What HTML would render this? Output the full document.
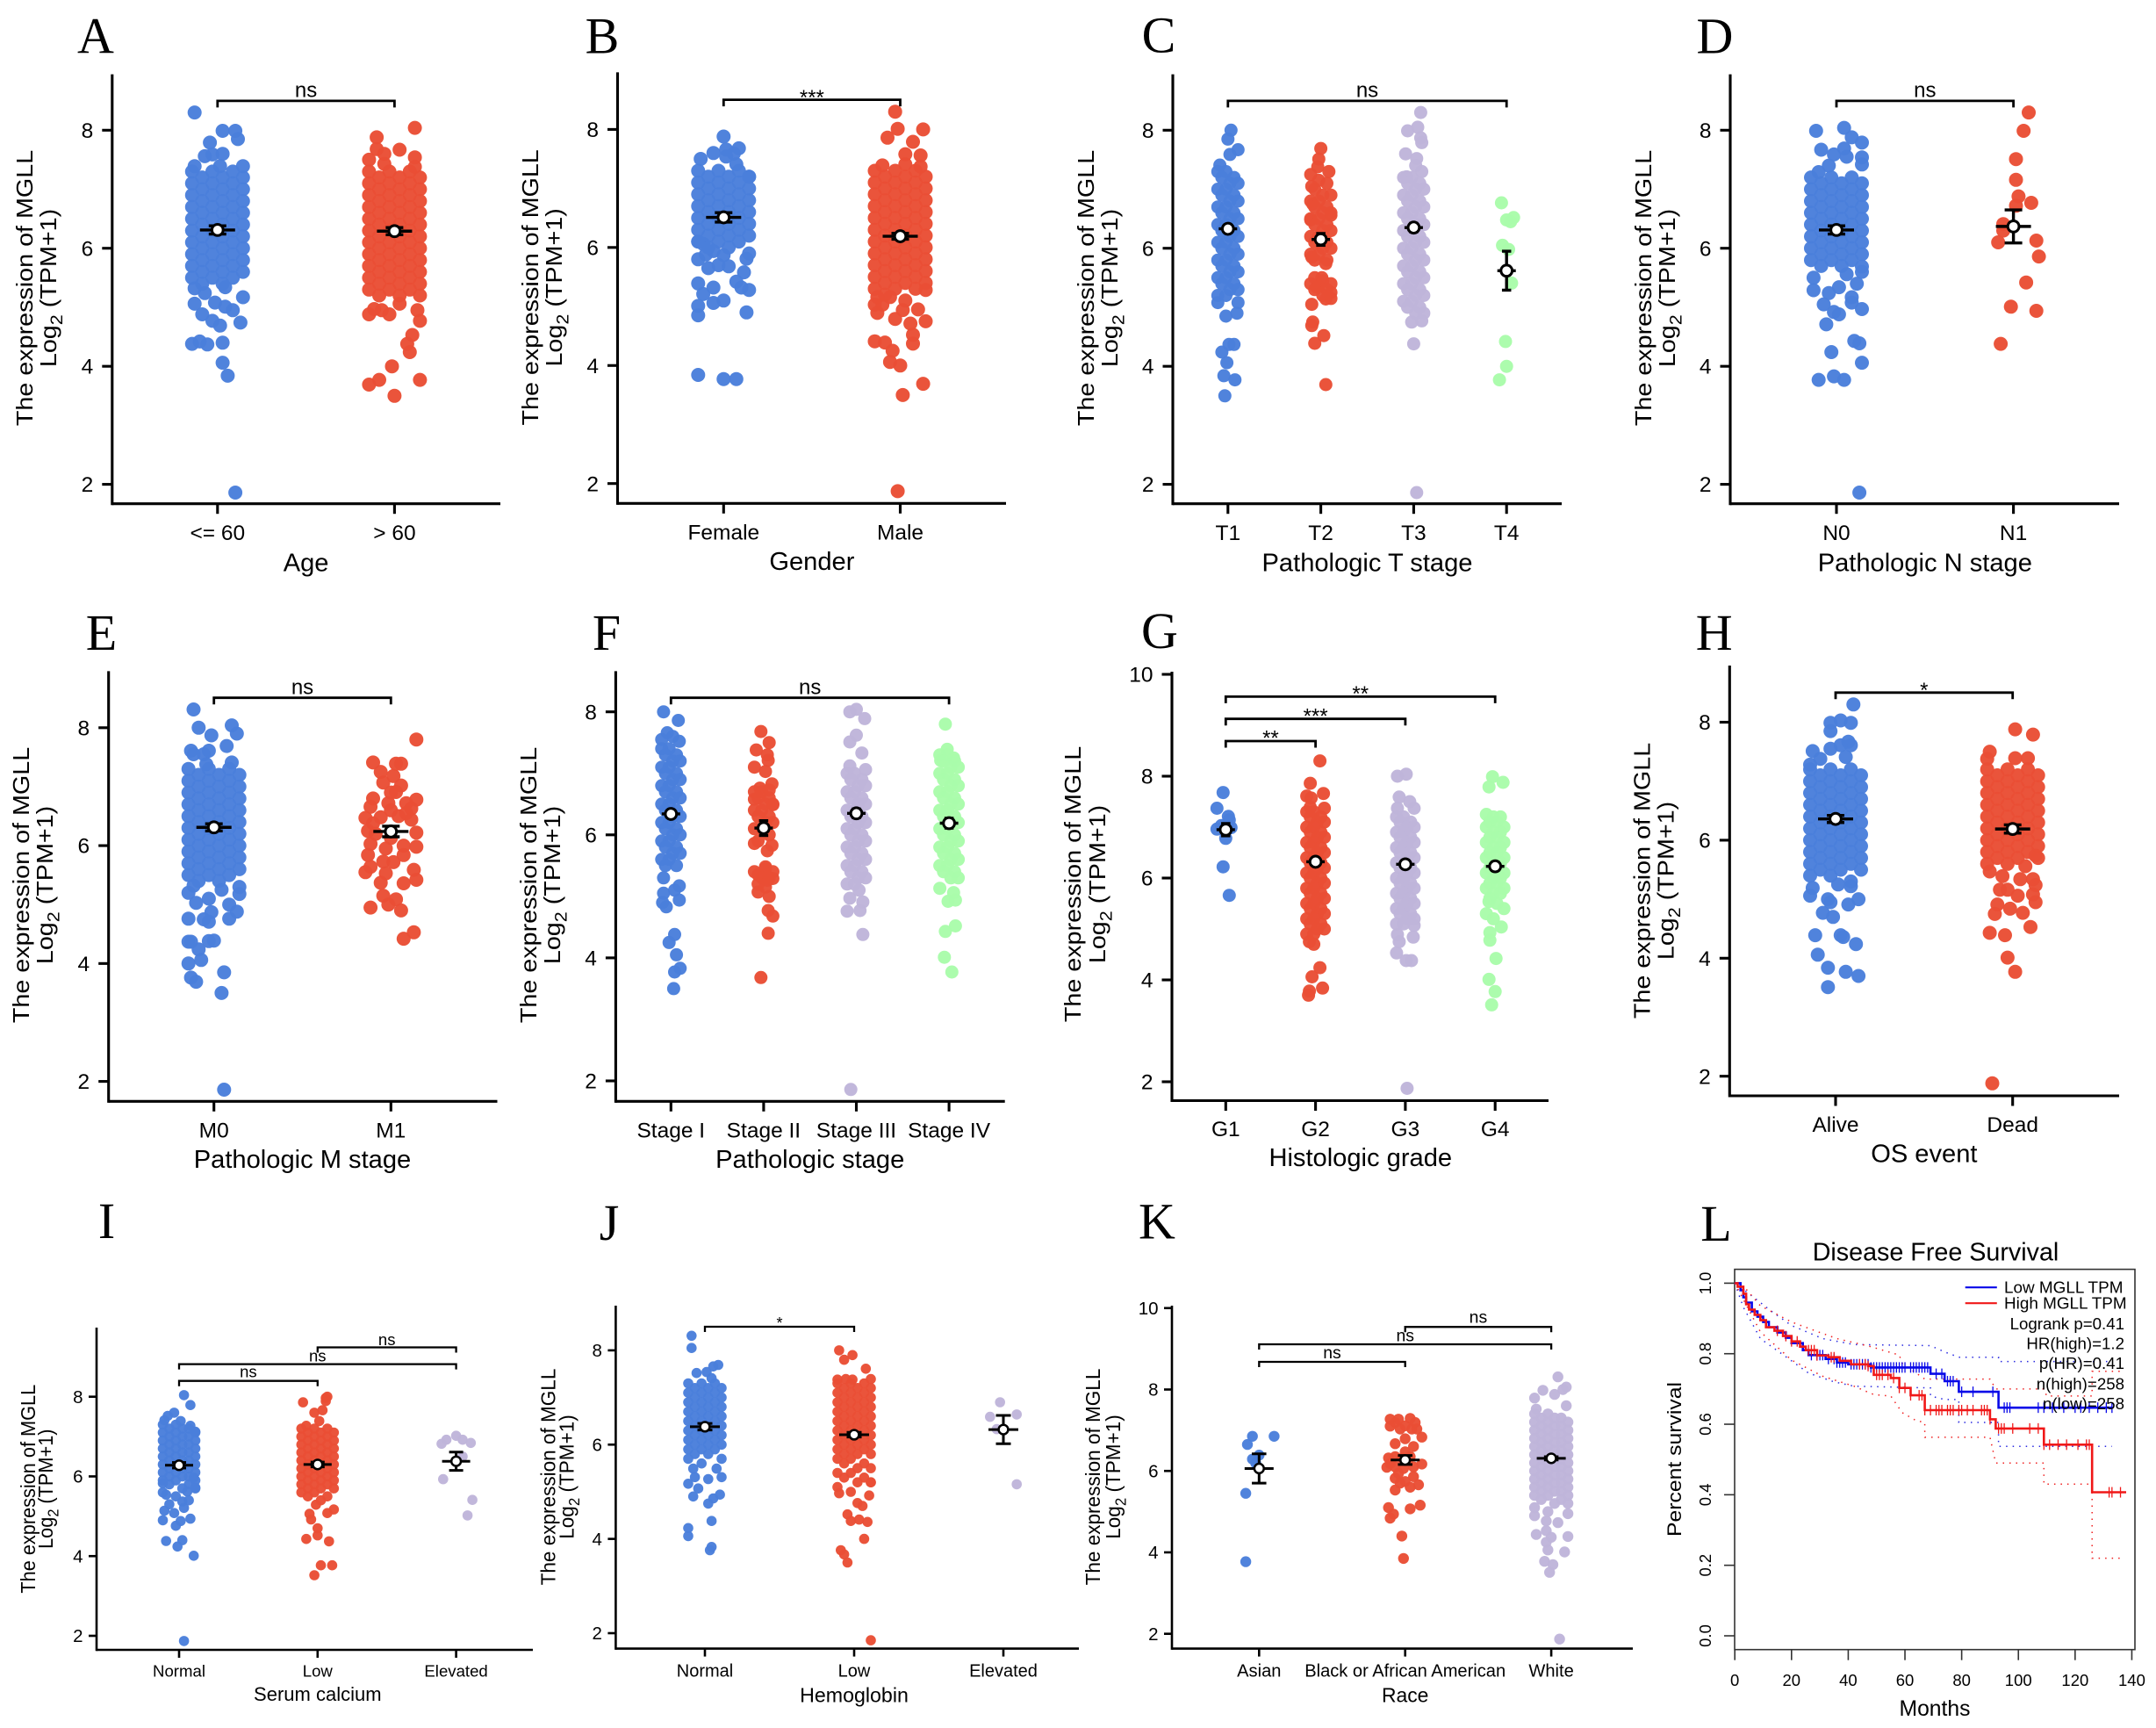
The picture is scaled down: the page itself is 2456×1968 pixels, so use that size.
<!DOCTYPE html>
<html lang="en">
<head>
<meta charset="utf-8">
<title>MGLL expression and disease free survival</title>
<style>
html,body{margin:0;padding:0;background:#fff;}
svg{display:block;}
text{font-family:"Liberation Sans",Arial,sans-serif;fill:#000;}
</style>
</head>
<body>
<svg id="figure" xmlns="http://www.w3.org/2000/svg" width="2456" height="1968" viewBox="0 0 2456 1968"></svg>
<script>
const BLUE='#4a7fdb',RED='#e94e35',LAV='#bfb5da',GREEN='#a9fcaa';
const yTicks8=[2,4,6,8];
const yTicks10=[2,4,6,8,10];
const corePattern=[-10,-2,6,-6,2,10];

/* Panel A */
const aCategories=['<= 60','> 60'];
const aMeans=[6.31,6.29];
const aErrors=[0.07,0.06];
const aLowAgeValues=[8.3,7.99,7.99,7.85,7.79,7.56,7.59,7.6,4.74,4.69,4.77,4.88,5.06,4.95,5.01,5.08,4.38,4.42,4.37,4.4,4.06,3.84,1.86,5.32,5.17,5.24,5.34,7.39,7.39,7.39,
7.3,7.3,7.3,7.2,7.2,7.2,7.1,7.1,7.1,7,7,7,6.9,6.9,6.9,6.8,6.8,6.8,6.7,6.7,6.7,6.6,6.6,6.6,6.5,6.5,6.5,6.4,6.4,6.4,6.3,6.3,6.3,6.2,6.2,6.2,6.1,6.1,6.1,6,6,6,5.9,5.9,5.9,5.8,5.8,5.8,5.7,5.7,5.7,5.6,5.6,5.6,5.5,5.5,5.5,5.4,5.4];
const aLowAgeJitter=[-9,2,7,8,-3,-5,-2,2,9,1,-2,-6,-9,6,3,-1,-10,-7,-4,2,2,4,7,-9,10,-5,3,-9,10,1];
const aHighAgeValues=[8.04,7.88,7.67,7.68,7.6,7.54,7.5,7.38,7.43,4.88,4.97,4.95,4.88,5.06,4.95,4.77,5.2,4.53,4.38,4.24,4,3.77,3.69,3.77,3.5,
7.3,7.3,7.3,7.2,7.2,7.2,7.1,7.1,7.1,7,7,7,6.9,6.9,6.9,6.8,6.8,6.8,6.7,6.7,6.7,6.6,6.6,6.6,6.5,6.5,6.5,6.4,6.4,6.4,6.3,6.3,6.3,6.2,6.2,6.2,6.1,6.1,6.1,6,6,6,5.9,5.9,5.9,5.8,5.8,5.8,5.7,5.7,5.7,5.6,5.6,5.6,5.5,5.5,5.5,5.4,5.4,5.4,5.3,5.3,5.3,5.2,5.2];
const aHighAgeJitter=[8,-7,2,-7,-4,8,-10,8,-4,-10,-8,-5,-2,2,9,10,10,7,5,6,-1,-6,-10,10,0];

/* Panel B */
const bCategories=['Female','Male'];
const bMeans=[6.51,6.19];
const bErrors=[0.08,0.05];
const bFemaleValues=[7.88,7.68,7.66,7.6,7.59,7.54,7.5,7.41,7.2,6.1,6.06,5.88,5.94,5.87,5.81,5.58,5.65,5.68,5.42,5.32,5.28,5.39,5.32,5.21,5.06,5.1,5.01,4.85,4.9,3.84,3.77,3.77,
7.3,7.3,7.3,7.2,7.2,7.2,7.1,7.1,7.1,7,7,7,6.9,6.9,6.9,6.8,6.8,6.8,6.7,6.7,6.7,6.6,6.6,6.6,6.5,6.5,6.5,6.4,6.4,6.4,6.3,6.3,6.3,6.2,6.2,6.2,6.1,6.1,6.1,6,6,5.9,5.8,5.7];
const bFemaleJitter=[0,6,1,-4,4,1,-9,5,10,-10,-8,-7,-4,0,9,8,-6,2,5,7,10,-10,-4,-8,-4,0,-10,-10,9,-10,0,5];
const bMaleValues=[8.3,8.01,8,7.86,7.79,7.58,7.56,7.41,7.39,7.37,5.28,5.16,5.16,5.03,5.03,4.94,4.95,4.89,4.79,4.71,4.75,4.52,4.41,4.39,4.37,4.25,4.06,4,3.69,3.5,1.87,
7.3,7.3,7.3,7.2,7.2,7.2,7.1,7.1,7.1,7,7,7,6.9,6.9,6.9,6.8,6.8,6.8,6.7,6.7,6.7,6.6,6.6,6.6,6.5,6.5,6.5,6.4,6.4,6.4,6.3,6.3,6.3,6.2,6.2,6.2,6.1,6.1,6.1,6,6,6,5.9,5.9,5.9,5.8,5.8,5.8,5.7,5.7,5.7,5.6,5.6,5.6,5.5,5.5,5.5,5.4,5.4,5.4,5.3,5.3,5.3,5.2,5.1];
const bMaleJitter=[-2,-1,9,-5,5,2,8,2,-7,8,10,-9,-4,-10,-7,1,7,-9,-2,4,10,5,-10,-6,5,-3,-4,0,9,1,-1];

/* Panel C */
const cCategories=['T1','T2','T3','T4'];
const cMeans=[6.33,6.15,6.35,5.62];
const cErrors=[0.06,0.1,0.07,0.33];
const cT1Values=[8,7.85,7.67,7.59,7.41,4.85,4.9,5.08,5.08,4.37,4.37,4.24,4.06,3.84,3.77,3.5,
7.3,7.3,7.2,7.2,7.1,7.1,7,7,6.9,6.9,6.8,6.8,6.7,6.7,6.6,6.6,6.5,6.5,6.4,6.4,6.3,6.3,6.2,6.2,6.1,6.1,6,6,5.9,5.9,5.8,5.8,5.7,5.7,5.6,5.6,5.5,5.5,5.4,5.4,5.3,5.3,5.2,5.2];
const cT1Jitter=[3,0,10,2,-8,-2,9,-10,10,1,6,-6,-1,-4,7,-3];
const cT2Values=[7.69,7.51,7.38,7.3,7.05,6.56,6.48,6.75,5.74,5.85,5.25,5.34,5.14,5.05,4.75,4.69,4.52,4.39,3.69,5.5,5.5,
7.25,7.15,7.1,7,6.9,6.9,6.8,6.8,6.7,6.7,6.6,6.6,6.5,6.5,6.4,6.4,6.3,6.3,6.2,6.2,6.1,6.1,6,6,5.9,5.9,5.8,5.8,5.45,5.4,5.4,5.35,5.3,5.3,5.2,5.15];
const cT2Jitter=[0,-2,-3,8,-9,10,-10,-8,5,-9,10,-4,5,-9,-8,-9,3,-6,5,1,-6];
const cT3Values=[8.3,8.05,7.99,7.87,7.79,7.6,7.52,7.4,7.3,7.21,4.75,4.77,4.38,1.86,
7.2,7.2,7.1,7.1,7,7,6.9,6.9,6.8,6.8,6.7,6.7,6.6,6.6,6.5,6.5,6.4,6.4,6.3,6.3,6.2,6.2,6.1,6.1,6,6,5.9,5.9,5.8,5.8,5.7,5.7,5.6,5.6,5.5,5.5,5.4,5.4,5.3,5.3,5.2,5.2,5.1,5.1,5,5,4.9,4.9];
const cT3Jitter=[7,4,-6,7,8,-8,3,2,8,-7,-2,8,0,3];
const cT4Values=[6.77,6.52,6.48,6.45,6.05,5.98,5.41,4.42,4,3.77];
const cT4Jitter=[-5,7,0,4,-4,2,5,-1,0,-7];

/* Panel D */
const dCategories=['N0','N1'];
const dMeans=[6.31,6.37];
const dErrors=[0.07,0.28];
const dN0Values=[7.99,8.04,7.88,7.79,7.67,7.69,7.59,7.55,7.54,7.4,7.29,7.42,5.5,5.69,5.4,5.56,5.34,5.24,5.29,5.05,5.17,5.08,4.97,4.92,4.88,4.71,4.43,4.39,4.24,4.06,3.83,3.77,3.77,1.86,
7.2,7.2,7.2,7.1,7.1,7.1,7,7,7,6.9,6.9,6.9,6.8,6.8,6.8,6.7,6.7,6.7,6.6,6.6,6.6,6.5,6.5,6.5,6.4,6.4,6.4,6.3,6.3,6.3,6.2,6.2,6.2,6.1,6.1,6.1,6,6,6,5.9,5.9,5.9,5.8,5.8,5.8,5.7,5.7,5.6];
const dN0Jitter=[-8,3,6,10,-6,3,-1,4,10,-3,-7,10,-9,10,8,4,1,-3,-9,-5,6,6,10,-1,1,-4,7,9,-2,10,-1,-7,3,9];
const dN1Values=[8.3,7.99,7.51,7.16,6.88,6.72,6.77,6.41,6.3,6.1,6.13,5.86,5.42,5.01,4.94,4.38];
const dN1Jitter=[6,4,1,1,2,1,7,-4,-4,-6,9,10,5,-1,9,-5];

/* Panel E */
const eCategories=['M0','M1'];
const eMeans=[6.31,6.24];
const eErrors=[0.06,0.09];
const eM0Values=[8.31,8,8.04,7.9,7.87,7.69,7.61,7.61,7.55,7.55,7.41,7.38,5.32,5.18,5.25,5.03,4.87,4.88,4.76,4.75,4.76,4.71,4.37,4.37,4.38,4.39,4.24,4,4.06,3.85,3.76,3.69,3.5,1.86,
7.3,7.3,7.3,7.2,7.2,7.2,7.1,7.1,7.1,7,7,7,6.9,6.9,6.9,6.8,6.8,6.8,6.7,6.7,6.7,6.6,6.6,6.6,6.5,6.5,6.5,6.4,6.4,6.4,6.3,6.3,6.3,6.2,6.2,6.2,6.1,6.1,6.1,6,6,6,5.9,5.9,5.9,5.8,5.8,5.8,5.7,5.7,5.7,5.6,5.6,5.6,5.5,5.5,5.5,5.4,5.4,5.3,5.2,5.1,5];
const eM0Jitter=[-8,-6,7,9,-1,5,-2,-9,-4,-8,7,-3,-8,10,3,-7,-1,9,-10,-4,6,-2,-10,-9,-2,0,-6,-10,-5,4,-9,-7,3,4];
const eM1Values=[7.8,7.41,7.39,7.39,7.25,7.18,7.07,7.02,6.91,6.78,6.8,6.72,6.72,6.66,6.63,6.47,6.48,6.44,6.38,6.22,6.25,6.13,6.03,5.98,6,5.84,5.84,5.73,5.72,5.64,5.55,5.59,5.53,5.37,5.36,5.42,5.15,5.09,5,4.9,4.95,4.53,4.42,6.5,6.55,5.95,6.2,6.9,6.6];
const eM1Jitter=[10,-7,2,4,-4,1,-3,4,2,10,-7,-1,6,-8,8,-10,-4,8,-7,10,-9,0,-8,10,5,5,-9,-3,1,-8,-10,9,-2,-4,5,10,-3,2,-1,4,-8,9,5,3,6,-2,-6,0,0];

/* Panel F */
const fCategories=['Stage I','Stage II','Stage III','Stage IV'];
const fMeans=[6.34,6.11,6.35,6.19];
const fErrors=[0.06,0.12,0.07,0.08];
const fS1Values=[8,7.86,7.66,7.6,7.55,7.52,5.3,5.17,5.05,5.1,4.94,4.9,4.83,4.38,4.25,4.05,3.83,3.77,3.5,
7.4,7.4,7.3,7.3,7.2,7.2,7.1,7.1,7,7,6.9,6.9,6.8,6.8,6.7,6.7,6.6,6.6,6.5,6.5,6.4,6.4,6.3,6.3,6.2,6.2,6.1,6.1,6,6,5.9,5.9,5.8,5.8,5.7,5.7,5.6,5.6,5.5,5.5];
const fS1Jitter=[-8,8,-4,2,-10,9,-8,9,-8,4,9,-9,-5,4,-2,6,10,4,3];
const fS2Values=[7.68,7.5,7.38,7.3,7.21,7.1,7.03,6.83,6.76,6.73,6.58,6.49,5.86,5.83,5.74,5.48,5.35,5.29,5.26,5.07,5,4.77,4.68,4.4,3.68,
6.7,6.7,6.6,6.6,6.5,6.5,6.4,6.4,6.3,6.3,6.2,6.2,6.1,6.1,6,5.9,5.45,5.4,5.4,5.3,5.3,5.2,5.15];
const fS2Jitter=[-3,6,-8,4,5,-10,2,9,-4,6,-10,10,-10,9,4,2,-6,10,4,-6,6,5,10,5,-3];
const fS3Values=[8,8.04,7.89,7.62,7.51,7.33,7.12,7.06,4.76,4.77,4.91,4.97,4.38,1.86,5.1,
7,7,6.9,6.9,6.8,6.8,6.7,6.7,6.6,6.6,6.5,6.5,6.4,6.4,6.3,6.3,6.2,6.2,6.1,6.1,6,6,5.9,5.9,5.8,5.8,5.7,5.7,5.6,5.6,5.5,5.5,5.4,5.4,5.3,5.3,5.2,5.2];
const fS3Jitter=[-7,0,9,0,-7,6,-7,10,-10,4,7,-7,7,-6,3];
const fS4Values=[7.8,7.39,7.25,7.21,5.13,5.06,4.92,4.94,4.52,4.43,4.01,3.77,
7.3,7.3,7.2,7.2,7.1,7.1,7,7,6.9,6.9,6.8,6.8,6.7,6.7,6.6,6.6,6.5,6.5,6.4,6.4,6.3,6.3,6.2,6.2,6.1,6.1,6,6,5.9,5.9,5.8,5.8,5.7,5.7,5.6,5.6,5.5,5.5,5.4,5.4,5.3,5.3];
const fS4Jitter=[-4,-2,5,-9,-10,5,-1,7,7,-4,-5,3];

/* Panel G */
const gCategories=['G1','G2','G3','G4'];
const gMeans=[6.95,6.32,6.27,6.23];
const gErrors=[0.12,0.05,0.06,0.08];
const gG1Values=[7.68,7.37,7.21,7.14,7.03,6.96,6.99,6.96,6.78,6.22,5.66];
const gG1Jitter=[-3,-10,3,4,-5,-10,6,0,0,-3,4];
const gG2Values=[8.3,7.86,7.66,7.61,7.57,7.39,7.37,4.75,4.7,4.24,4.06,3.84,3.78,3.7,
7.3,7.3,7.2,7.2,7.1,7.1,7,7,6.9,6.9,6.8,6.8,6.7,6.7,6.6,6.6,6.5,6.5,6.4,6.4,6.3,6.3,6.2,6.2,6.1,6.1,6,6,5.9,5.9,5.8,5.8,5.7,5.7,5.6,5.6,5.5,5.5,5.4,5.4,5.3,5.3,5.2,5.2,5.1,5.1,5,5,4.9,4.9];
const gG2Jitter=[5,-6,9,-10,-5,-6,10,-7,-2,5,-4,8,-7,-8];
const gG3Values=[8,8.04,7.59,7.5,7.37,7.37,4.53,4.38,4.38,4.75,4.84,4.89,5.07,1.87,
7.2,7.2,7.1,7.1,7,7,6.9,6.9,6.8,6.8,6.7,6.7,6.6,6.6,6.5,6.5,6.4,6.4,6.3,6.3,6.2,6.2,6.1,6.1,6,6,5.9,5.9,5.8,5.8,5.7,5.7,5.6,5.6,5.5,5.5,5.4,5.4,5.3,5.3,5.2,5.2,5.1,5.1];
const gG3Jitter=[-9,1,-7,5,10,-9,-10,1,7,-7,9,-9,10,2];
const gG4Values=[7.99,7.88,7.79,4.78,4.93,4.42,4.01,3.77,3.51,5.04,5.54,
7.25,7.2,7.2,7.1,7.1,7,7,6.9,6.9,6.8,6.8,6.7,6.7,6.6,6.6,6.5,6.5,6.4,6.4,6.3,6.3,6.2,6.2,6.1,6.1,6,6,5.9,5.9,5.8,5.8,5.7,5.7,5.6,5.5,5.4,5.3,5.2];
const gG4Jitter=[-3,9,-7,-6,-6,1,-7,0,-4,7,-7];

/* Panel H */
const hCategories=['Alive','Dead'];
const hMeans=[6.36,6.19];
const hErrors=[0.06,0.07];
const hAliveValues=[8.3,8.03,7.99,7.99,7.85,7.67,7.61,7.61,7.55,7.51,7.41,7.38,7.28,5.19,5.06,5,4.95,4.91,5,4.77,4.7,4.39,4.39,4.36,4.24,4.06,3.84,3.77,3.7,3.51,5.25,5.22,
7.2,7.2,7.2,7.1,7.1,7.1,7,7,7,6.9,6.9,6.9,6.8,6.8,6.8,6.7,6.7,6.7,6.6,6.6,6.6,6.5,6.5,6.5,6.4,6.4,6.4,6.3,6.3,6.3,6.2,6.2,6.2,6.1,6.1,6.1,6,6,6,5.9,5.9,5.9,5.8,5.8,5.8,5.7,5.7,5.7,5.6,5.6,5.6,5.5,5.5,5.5,5.4,5.4,5.3];
const hAliveJitter=[7,2,-2,6,-2,5,6,2,-2,-9,4,-6,-10,-9,-10,-3,-2,5,9,-5,-1,-8,2,3,8,-7,-3,4,9,-3,1,6];
const hDeadValues=[7.88,7.79,7.5,7.39,7.39,7.38,5.74,5.56,5.34,5.34,5.24,5.47,5.39,5.16,5.16,5.06,5.08,4.95,4.91,4.84,4.77,4.75,4.53,4.43,4.39,4.01,3.77,1.88,
7.2,7.2,7.2,7.1,7.1,7.1,7,7,7,6.9,6.9,6.9,6.8,6.8,6.8,6.7,6.7,6.7,6.6,6.6,6.6,6.5,6.5,6.5,6.4,6.4,6.4,6.3,6.3,6.3,6.2,6.2,6.2,6.1,6.1,6.1,6,6,6,5.9,5.9,5.9,5.8,5.8,5.8,5.7,5.7,5.7,5.6,5.6];
const hDeadJitter=[1,8,-9,1,6,-10,9,5,3,8,9,-9,-4,-5,-2,2,8,9,-6,-1,4,-7,7,-9,-3,-2,1,-8];

/* Panel I */
const iCategories=['Normal','Low','Elevated'];
const iMeans=[6.28,6.3,6.38];
const iErrors=[0.07,0.06,0.23];
const iNormalValues=[8.04,7.79,7.6,7.52,7.41,7.39,7.12,7.27,5.72,5.97,5.83,5.54,5.62,5.37,5.14,5.21,5.08,4.94,4.9,4.88,4.76,4.38,4.4,4.24,4.01,1.87,
7.3,7.3,7.2,7.2,7.2,7.1,7.1,7.1,7,7,7,6.9,6.9,6.9,6.8,6.8,6.8,6.7,6.7,6.7,6.6,6.6,6.6,6.5,6.5,6.5,6.4,6.4,6.4,6.3,6.3,6.3,6.2,6.2,6.2,6.1,6.1,6.1,6,6,6,5.9,5.9,5.9,5.8,5.8,5.7,5.7,5.6,5.5,5.4,5.3];
const iNormalJitter=[3,7,-3,-7,-9,1,10,7,10,9,-10,-8,5,2,-9,3,-3,7,-10,1,-2,-8,2,-1,9,3];
const iLowValues=[7.86,7.97,8,7.89,7.6,7.66,7.39,7.27,5.17,5.06,5.08,4.92,4.7,4.52,4.43,4.37,3.77,3.77,3.52,5.29,
7.2,7.2,7.2,7.1,7.1,7.1,7,7,7,6.9,6.9,6.9,6.8,6.8,6.8,6.7,6.7,6.7,6.6,6.6,6.6,6.5,6.5,6.5,6.4,6.4,6.4,6.3,6.3,6.3,6.2,6.2,6.2,6.1,6.1,6.1,6,6,6,5.9,5.9,5.9,5.8,5.8,5.8,5.7,5.7,5.7,5.6,5.6,5.5,5.5,5.4];
const iLowJitter=[-9,5,6,5,-2,3,1,-7,10,-5,6,-4,0,0,-7,7,2,9,-2,-1];
const iElevatedValues=[7.02,6.92,6.92,6.84,6.82,6.5,5.93,5.41,5.02];
const iElevatedJitter=[0,-6,4,9,-9,4,-8,10,7];

/* Panel J */
const jCategories=['Normal','Low','Elevated'];
const jMeans=[6.38,6.21,6.32];
const jErrors=[0.07,0.05,0.3];
const jNormalValues=[8.31,8.05,7.69,7.66,7.52,7.54,7.41,5.31,5.49,5.49,5.27,5.31,5.17,5.07,4.9,4.94,4.86,4.75,4.38,4.23,4.06,3.83,3.76,
7.3,7.3,7.3,7.2,7.2,7.2,7.1,7.1,7.1,7,7,7,6.9,6.9,6.9,6.8,6.8,6.8,6.7,6.7,6.7,6.6,6.6,6.6,6.5,6.5,6.5,6.4,6.4,6.4,6.3,6.3,6.3,6.2,6.2,6.2,6.1,6.1,6.1,6,6,6,5.9,5.9,5.9,5.8,5.8,5.7,5.7,5.6];
const jNormalJitter=[-8,-8,8,5,-5,1,4,10,7,-7,2,-6,-10,-4,-7,9,5,2,4,-10,-10,4,3];
const jLowValues=[8,7.9,7.8,7.61,7.39,7.38,7.39,7.38,4.92,4.97,5.2,4.76,4.7,4.52,4.38,4.41,4.36,4,3.76,3.67,3.5,1.85,
7.3,7.3,7.3,7.2,7.2,7.2,7.1,7.1,7.1,7,7,7,6.9,6.9,6.9,6.8,6.8,6.8,6.7,6.7,6.7,6.6,6.6,6.6,6.5,6.5,6.5,6.4,6.4,6.4,6.3,6.3,6.3,6.2,6.2,6.2,6.1,6.1,6.1,6,6,6,5.9,5.9,5.9,5.8,5.8,5.8,5.7,5.7,5.6,5.6,5.5,5.5,5.4,5.4,5.3,5.3,5.2,5.2,5.1,5];
const jLowJitter=[-9,-1,-6,7,10,-10,-5,-1,9,-9,10,2,5,-4,-2,3,8,6,-8,-6,-4,10];
const jElevatedValues=[6.9,6.59,6.64,6.33,5.16];
const jElevatedJitter=[-2,-8,8,-4,8];

/* Panel K */
const kCategories=['Asian','Black or African American','White'];
const kMeans=[6.06,6.27,6.31];
const kErrors=[0.36,0.11,0.04];
const kAsianValues=[6.85,6.85,6.65,6.39,6.29,6.19,5.45,3.77];
const kAsianJitter=[-4,9,-7,0,-4,-2,-8,-8];
const kBlackValues=[7.27,7.29,7.19,7.19,7.1,7.11,7.03,7.03,6.79,6.83,6.67,6.6,6.47,6.32,6.35,6.31,6.17,6.09,6.1,6.06,6.1,5.94,5.86,5.74,5.66,5.6,5.53,5.16,5.1,5.07,4.94,4.84,4.4,3.85,7.27,7.03,6.18,6.35,5.82,5.7];
const kBlackJitter=[-9,3,-6,6,-9,0,4,-3,0,10,-6,5,0,-10,-6,-2,10,-11,-6,-1,5,-4,5,0,8,3,-6,9,-10,3,-7,-9,-2,-1,-4,7,-9,3,-6,-3];
const kWhiteValues=[8.31,8.06,8,7.98,7.88,7.79,7.6,7.52,4.95,4.9,4.77,4.73,4.53,4.44,4.37,4.39,4.25,4.06,4.01,3.78,3.7,3.51,1.87,
7.4,7.4,7.3,7.3,7.3,7.2,7.2,7.2,7.1,7.1,7.1,7,7,7,6.9,6.9,6.9,6.8,6.8,6.8,6.7,6.7,6.7,6.6,6.6,6.6,6.5,6.5,6.5,6.4,6.4,6.4,6.3,6.3,6.3,6.2,6.2,6.2,6.1,6.1,6.1,6,6,6,5.9,5.9,5.9,5.8,5.8,5.8,5.7,5.7,5.7,5.6,5.6,5.6,5.5,5.5,5.5,5.4,5.4,5.4,5.3,5.3,5.2,5.2,5.1,5];
const kWhiteJitter=[4,9,7,-5,2,-10,9,-9,10,-10,-3,4,-3,-9,0,10,-3,-2,8,-4,1,-1,5];

/* Panel L */
const kmXTicks=[0,20,40,60,80,100,120,140];
const kmYTicks=['0.0','0.2','0.4','0.6','0.8','1.0'];
const lowMonths=[0,2,3,4,6,8,10,12,15,18,20,24,26,32,36,40,48,69,74,79,93,133];
const lowSurvival=[1,0.98,0.96,0.945,0.92,0.905,0.89,0.875,0.86,0.845,0.83,0.81,0.796,0.785,0.775,0.77,0.761,0.743,0.722,0.692,0.647,0.647];
const highMonths=[0,1,3,4,5,7,9,11,14,17,20,23,25,29,33,37,41,47,49,55,58,62,67,90,92,109,126,138];
const highSurvival=[1,0.99,0.97,0.94,0.925,0.91,0.895,0.875,0.865,0.85,0.835,0.82,0.81,0.795,0.79,0.78,0.77,0.765,0.74,0.731,0.703,0.682,0.64,0.614,0.588,0.542,0.407,0.407];
const lowCensorMonths=[27,29,30,31,33,35,36,37,38,39,41,42,43,44,45,46,47,48,49,50,51,52,53,54,55,56,57,58,59,60,62,63,64,65,66,67,68,71,73,75,76,77,80,84,91,95,96,97,107,109,112,116,120,122,125,128,131,133];
const highCensorMonths=[15,18,20,22,26,27,28,29,34,35,44,46,47,50,51,52,54,56,58,60,62,65,66,67,69,71,72,73,75,76,77,79,80,82,84,87,88,89,90,93,94,95,98,104,107,109,111,114,117,121,124,125,132,133,136];
const lowUpperMonths=[0,5,13,20,31,42,69,74,79,93,93,133];
const lowUpperSurvival=[1,0.97,0.92,0.88,0.843,0.826,0.823,0.805,0.79,0.79,0.778,0.778];
const lowLowerMonths=[0,3,9,20,26,35,42,69,69,74,79,79,93,93,133];
const lowLowerSurvival=[1,0.932,0.843,0.78,0.745,0.72,0.708,0.703,0.68,0.67,0.67,0.605,0.605,0.537,0.537];
const highUpperMonths=[0,4,9,20,28,36,48,58,59,67,90,92,109,110,126,126,137];
const highUpperSurvival=[1,0.983,0.936,0.89,0.866,0.843,0.82,0.796,0.773,0.728,0.728,0.7,0.7,0.68,0.68,0.75,0.75];
const highLowerMonths=[0,9,20,31,42,49,55,59,64,67,67,90,92,109,109,126,126,136];
const highLowerSurvival=[1,0.862,0.782,0.736,0.708,0.684,0.68,0.633,0.61,0.605,0.563,0.563,0.49,0.49,0.43,0.43,0.22,0.22];
const kmStatsLines=['Logrank p=0.41','HR(high)=1.2','p(HR)=0.41','n(high)=258','n(low)=258'];

const row1={tickLen:11.5,axisW:3.1,labelGap:21.5,tickFs:24.5,catFs:24.5,xTitleFs:29.1,titleFs:26,titleScale:1.105,sigFs:24,bracketDrop:7.5,dotR:8,meanW:3.4,meanR:6.4,meanSW:3};
const row3={tickLen:9,axisW:2.6,labelGap:15.5,tickFs:20.5,catFs:19.3,xTitleFs:22.5,titleFs:23,titleScale:0.98,sigFs:19,bracketDrop:6,dotR:5.8,meanW:3,meanR:5.4,meanSW:2.5};

const panels=[
 {id:'a',...row1,letter:'A',letterX:109,letterY:60.7,ax:127.8,top:84.6,bot:573.7,right:570,y2:551.6,y8:148.3,cx0:247.8,step:201.6,jitterPx:29,barHalf:20,t1:-91,t2:-64,titleCy:328,catY:615,xTitleY:650.5,xTitle:'Age',ticks:yTicks8,categories:aCategories,means:aMeans,errors:aErrors,colors:[BLUE,RED],values:[aLowAgeValues,aHighAgeValues],jitters:[aLowAgeJitter,aHighAgeJitter],brackets:[{from:0,to:1,y:114.9,label:'ns',ly:110.6}]},
 {id:'b',...row1,letter:'B',letterX:686,letterY:60.7,ax:703.5,top:82.4,bot:573.3,right:1146,y2:550.7,y8:147.4,cx0:824.3,step:201.2,jitterPx:29,barHalf:20,t1:-90.5,t2:-63.5,titleCy:327.4,catY:614.5,xTitleY:649,xTitle:'Gender',ticks:yTicks8,categories:bCategories,means:bMeans,errors:bErrors,colors:[BLUE,RED],values:[bFemaleValues,bMaleValues],jitters:[bFemaleJitter,bMaleJitter],brackets:[{from:0,to:1,y:113.6,label:'***',ly:119}]},
 {id:'c',...row1,letter:'C',letterX:1320,letterY:59.4,ax:1336,top:84.6,bot:573.7,right:1779,y2:551.6,y8:148.3,cx0:1398.8,step:105.8,jitterPx:11.5,barHalf:10.5,dotR:7.5,t1:-90,t2:-63,titleCy:328,catY:615,xTitleY:650.5,xTitle:'Pathologic T stage',ticks:yTicks8,categories:cCategories,means:cMeans,errors:cErrors,colors:[BLUE,RED,LAV,GREEN],values:[cT1Values,cT2Values,cT3Values,cT4Values],jitters:[cT1Jitter,cT2Jitter,cT3Jitter,cT4Jitter],brackets:[{from:0,to:3,y:114.9,label:'ns',ly:110.6}]},
 {id:'d',...row1,letter:'D',letterX:1953.5,letterY:60.7,ax:1971,top:84.6,bot:573.7,right:2414,y2:551.6,y8:148.3,cx0:2092,step:201.6,jitterPx:29,barHalf:20,t1:-90,t2:-63,titleCy:328,catY:615,xTitleY:650.5,xTitle:'Pathologic N stage',ticks:yTicks8,categories:dCategories,means:dMeans,errors:dErrors,colors:[BLUE,RED],values:[dN0Values,dN1Values],jitters:[dN0Jitter,dN1Jitter],brackets:[{from:0,to:1,y:114.9,label:'ns',ly:110.6}]},
 {id:'e',...row1,letter:'E',letterX:115.5,letterY:740,ax:123.7,top:764.4,bot:1254.3,right:566.5,y2:1231.6,y8:828.8,cx0:243.7,step:201.6,jitterPx:29,barHalf:20,t1:-90.7,t2:-63.7,titleCy:1008,catY:1295.5,xTitleY:1330,xTitle:'Pathologic M stage',ticks:yTicks8,categories:eCategories,means:eMeans,errors:eErrors,colors:[BLUE,RED],values:[eM0Values,eM1Values],jitters:[eM0Jitter,eM1Jitter],brackets:[{from:0,to:1,y:794.7,label:'ns',ly:790.5}]},
 {id:'f',...row1,letter:'F',letterX:691,letterY:740,ax:701.4,top:764.4,bot:1254.3,right:1144.7,y2:1231,y8:810.7,cx0:764.3,step:105.6,jitterPx:10.5,barHalf:10.5,dotR:7.5,t1:-90.4,t2:-63.4,titleCy:1008,catY:1295.5,xTitleY:1330,xTitle:'Pathologic stage',ticks:yTicks8,categories:fCategories,means:fMeans,errors:fErrors,colors:[BLUE,RED,LAV,GREEN],values:[fS1Values,fS2Values,fS3Values,fS4Values],jitters:[fS1Jitter,fS2Jitter,fS3Jitter,fS4Jitter],brackets:[{from:0,to:3,y:794.7,label:'ns',ly:790.5}]},
 {id:'g',...row1,letter:'G',letterX:1321,letterY:738,ax:1335,top:765,bot:1253.5,right:1764,y2:1232,y8:884,cx0:1396.3,step:102.3,jitterPx:10,barHalf:10.5,dotR:7.5,t1:-104,t2:-76,titleCy:1007,catY:1294,xTitleY:1328,xTitle:'Histologic grade',ticks:yTicks10,categories:gCategories,means:gMeans,errors:gErrors,colors:[BLUE,RED,LAV,GREEN],values:[gG1Values,gG2Values,gG3Values,gG4Values],jitters:[gG1Jitter,gG2Jitter,gG3Jitter,gG4Jitter],brackets:[{from:0,to:3,y:793.4,label:'**',ly:798},{from:0,to:2,y:818.7,label:'***',ly:823.4},{from:0,to:1,y:844,label:'**',ly:848.7}]},
 {id:'h',...row1,letter:'H',letterX:1952.7,letterY:740,ax:1970.3,top:758,bot:1248,right:2414,y2:1225.7,y8:822.5,cx0:2091,step:201.7,jitterPx:29,barHalf:20,t1:-90.7,t2:-63.7,titleCy:1003,catY:1289,xTitleY:1323.7,xTitle:'OS event',ticks:yTicks8,categories:hCategories,means:hMeans,errors:hErrors,colors:[BLUE,RED],values:[hAliveValues,hDeadValues],jitters:[hAliveJitter,hDeadJitter],brackets:[{from:0,to:1,y:788.8,label:'*',ly:794}]},
 {id:'i',...row3,letter:'I',letterX:121.6,letterY:1410,ax:110,top:1512,bot:1879,right:607,y2:1863,y8:1590.7,cx0:204,step:157.8,jitterPx:18.5,barHalf:16,catFs:18.6,xTitleFs:22,sigFs:18.5,t1:-70,t2:-50,titleCy:1695.7,titleScale:0.945,catY:1909.4,xTitleY:1937,xTitle:'Serum calcium',ticks:yTicks8,categories:iCategories,means:iMeans,errors:iErrors,colors:[BLUE,RED,LAV],values:[iNormalValues,iLowValues,iElevatedValues],jitters:[iNormalJitter,iLowJitter,iElevatedJitter],brackets:[{from:1,to:2,y:1534.5,label:'ns',ly:1532},{from:0,to:2,y:1553.6,label:'ns',ly:1550.6},{from:0,to:1,y:1572.7,label:'ns',ly:1568.6}]},
 {id:'j',...row3,letter:'J',letterX:694,letterY:1412,ax:701.4,top:1487,bot:1877.6,right:1229,y2:1860,y8:1537.9,cx0:803,step:170,jitterPx:19,barHalf:17,catFs:20,xTitleFs:23.2,sigFs:18,t1:-69,t2:-48,titleCy:1682,catY:1909.4,xTitleY:1938.7,xTitle:'Hemoglobin',ticks:yTicks8,categories:jCategories,means:jMeans,errors:jErrors,colors:[BLUE,RED,LAV],values:[jNormalValues,jLowValues,jElevatedValues],jitters:[jNormalJitter,jLowJitter,jElevatedJitter],brackets:[{from:0,to:1,y:1511,label:'*',ly:1513}]},
 {id:'k',...row3,letter:'K',letterX:1318,letterY:1410.7,ax:1335,top:1487,bot:1877.6,right:1860,y2:1860.7,y8:1582.5,cx0:1434.3,step:166.4,jitterPx:19,barHalf:16.5,catFs:20.1,xTitleFs:22.9,sigFs:19.4,dotR:6.2,t1:-82,t2:-59,titleCy:1682,catY:1909.4,xTitleY:1938.7,xTitle:'Race',ticks:yTicks10,categories:kCategories,means:kMeans,errors:kErrors,colors:[BLUE,RED,LAV],values:[kAsianValues,kBlackValues,kWhiteValues],jitters:[kAsianJitter,kBlackJitter,kWhiteJitter],brackets:[{from:1,to:2,y:1511.2,label:'ns',ly:1506.7},{from:0,to:2,y:1531,label:'ns',ly:1527.4},{from:0,to:1,y:1551,label:'ns',ly:1547}]}
];

const NS='http://www.w3.org/2000/svg';
const figure=document.getElementById('figure');
function add(parent,tag,attrs,text){
  const node=document.createElementNS(NS,tag);
  for(const key in attrs){node.setAttribute(key,attrs[key]);}
  if(text!==undefined){node.textContent=text;}
  parent.appendChild(node);
  return node;
}
function line(parent,x1,y1,x2,y2,width,color){
  return add(parent,'line',{x1:x1,y1:y1,x2:x2,y2:y2,stroke:color||'#000','stroke-width':width});
}

function drawPanel(p){
  let el;
  const g=add(figure,'g',{});
  
  
  const yScale=v=>p.y2-(v-2)*(p.y2-p.y8)/6;
  const xScale=i=>p.cx0+i*p.step;

  el=add(g,'text',{x:p.letterX,y:p.letterY,'text-anchor':'middle','font-size':58,style:'font-family:"Liberation Serif",serif'},p.letter);
  
  

  const dots=add(g,'g',{});
  
  
  p.values.forEach((series,gi)=>{
    const jit=p.jitters[gi];
    series.forEach((v,i)=>{
      const j=i<jit.length?jit[i]:corePattern[(i-jit.length)%corePattern.length];
      const dot=add(dots,'circle',{cx:(xScale(gi)+j/10*p.jitterPx).toFixed(1),cy:yScale(v).toFixed(1),r:p.dotR,fill:p.colors[gi],'fill-opacity':0.97});
      
      
    });
  });

  el=line(g,p.ax,p.top,p.ax,p.bot+p.axisW/2,p.axisW);
  
  
  el=line(g,p.ax,p.bot,p.right,p.bot,p.axisW);
  
  

  p.ticks.forEach(t=>{
    const y=yScale(t);
    const tick=line(g,p.ax-p.tickLen,y,p.ax,y,p.axisW);
    
    
    const lab=add(g,'text',{x:p.ax-p.labelGap,y:y+p.tickFs*0.35,'text-anchor':'end','font-size':p.tickFs},String(t));
    
    
  });
  p.categories.forEach((c,i)=>{
    const x=xScale(i);
    const tick=line(g,x,p.bot,x,p.bot+p.tickLen,p.axisW);
    
    
    const lab=add(g,'text',{x:x,y:p.catY,'text-anchor':'middle','font-size':p.catFs},c);
    
    
  });

  p.means.forEach((m,i)=>{
    const x=xScale(i),e=p.errors[i];
    const mk=add(g,'g',{stroke:'#000','stroke-width':p.meanW,fill:'none'});
    
    
    add(mk,'line',{x1:x,x2:x,y1:yScale(m-e),y2:yScale(m+e)});
    add(mk,'line',{x1:x-p.barHalf/2,x2:x+p.barHalf/2,y1:yScale(m+e),y2:yScale(m+e)});
    add(mk,'line',{x1:x-p.barHalf/2,x2:x+p.barHalf/2,y1:yScale(m-e),y2:yScale(m-e)});
    add(mk,'line',{x1:x-p.barHalf,x2:x+p.barHalf,y1:yScale(m),y2:yScale(m)});
    add(mk,'circle',{cx:x,cy:yScale(m),r:p.meanR,fill:'#fff','stroke-width':p.meanSW});
  });

  p.brackets.forEach(b=>{
    const x1=xScale(b.from),x2=xScale(b.to);
    const path=add(g,'path',{d:'M'+x1+' '+(b.y+p.bracketDrop)+'V'+b.y+'H'+x2+'V'+(b.y+p.bracketDrop),fill:'none',stroke:'#000','stroke-width':p.axisW-0.3});
    
    
    const lab=add(g,'text',{x:(x1+x2)/2,y:b.ly,'text-anchor':'middle','font-size':p.sigFs},b.label);
    
    
  });

  el=add(g,'text',{'text-anchor':'middle','font-size':p.titleFs,transform:'translate('+(p.ax+p.t1)+','+p.titleCy+') rotate(-90) scale('+p.titleScale+',1)'},'The expression of MGLL');
  
  
  const t2=add(g,'text',{'text-anchor':'middle','font-size':p.titleFs,transform:'translate('+(p.ax+p.t2)+','+p.titleCy+') rotate(-90) scale('+p.titleScale+',1)'});
  
  
  add(t2,'tspan',{},'Log');
  add(t2,'tspan',{dy:p.titleFs*0.28,'font-size':p.titleFs*0.75},'2');
  add(t2,'tspan',{dy:-p.titleFs*0.28},' (TPM+1)');

  const titleX=p.cx0+(p.categories.length-1)*p.step/2;
  el=add(g,'text',{x:titleX,y:p.xTitleY,'text-anchor':'middle','font-size':p.xTitleFs},p.xTitle);
  
  
}
panels.forEach(drawPanel);

function drawSurvival(){
  let el;
  const box={l:1976,r:2432,t:1445.6,b:1878.7};
  const kmX=m=>1976.2+m*3.2304;
  const kmY=s=>1863-s*401.6;
  const g=add(figure,'g',{});
  
  

  el=add(g,'text',{x:1955,y:1413,'text-anchor':'middle','font-size':58,style:'font-family:"Liberation Serif",serif'},'L');
  
  
  el=add(g,'text',{x:2205,y:1435.5,'text-anchor':'middle','font-size':28.7},'Disease Free Survival');
  
  
  el=add(g,'rect',{x:box.l,y:box.t,width:box.r-box.l,height:box.b-box.t,fill:'none',stroke:'#333','stroke-width':1.6});
  
  

  kmXTicks.forEach(t=>{
    const x=kmX(t);
    const tick=line(g,x,box.b,x,box.b+12,1.6,'#333');
    
    
    const lab=add(g,'text',{x:x,y:1920,'text-anchor':'middle','font-size':18.5},String(t));
    
    
  });
  kmYTicks.forEach(t=>{
    const y=kmY(parseFloat(t));
    const tick=line(g,box.l-12,y,box.l,y,1.6,'#333');
    
    
    const lab=add(g,'text',{'text-anchor':'middle','font-size':18.5,transform:'translate(1949,'+y+') rotate(-90)'},t);
    
    
  });
  el=add(g,'text',{'text-anchor':'middle','font-size':22.5,transform:'translate(1915,1662) rotate(-90) scale(1.1,1)'},'Percent survival');
  
  
  el=add(g,'text',{x:2204,y:1954,'text-anchor':'middle','font-size':24.7},'Months');
  
  

  function dotted(months,surv,color,name){
    const pts=months.map((m,i)=>kmX(m).toFixed(1)+','+kmY(surv[i]).toFixed(1)).join(' ');
    const node=add(g,'polyline',{points:pts,fill:'none',stroke:color,'stroke-width':1.5,'stroke-dasharray':'1.5 6'});
    
    
  }
  dotted(lowUpperMonths,lowUpperSurvival,'#2a2ae0','low-upper-confidence');
  dotted(lowLowerMonths,lowLowerSurvival,'#2a2ae0','low-lower-confidence');
  dotted(highUpperMonths,highUpperSurvival,'#f02020','high-upper-confidence');
  dotted(highLowerMonths,highLowerSurvival,'#f02020','high-lower-confidence');

  function curve(months,surv,censor,color,name){
    let d='M'+kmX(months[0]).toFixed(1)+' '+kmY(surv[0]).toFixed(1);
    for(let i=1;i<months.length;i++){
      d+='H'+kmX(months[i]).toFixed(1)+'V'+kmY(surv[i]).toFixed(1);
    }
    const node=add(g,'path',{d:d,fill:'none',stroke:color,'stroke-width':2.6});
    
    
    censor.forEach(m=>{
      let s=surv[0];
      for(let i=0;i<months.length;i++){if(months[i]<=m){s=surv[i];}}
      const mark=line(g,kmX(m),kmY(s)-6,kmX(m),kmY(s)+6,1.3,color);
      
      
    });
  }
  curve(lowMonths,lowSurvival,lowCensorMonths,'#0808e8','low-mgll-survival-curve');
  curve(highMonths,highSurvival,highCensorMonths,'#f01818','high-mgll-survival-curve');

  el=line(g,2238.7,1466.2,2274.8,1466.2,2.2,'#0808e8');
  
  
  el=line(g,2238.7,1484.2,2274.8,1484.2,2.2,'#f01818');
  
  
  el=add(g,'text',{x:2283,y:1472.6,'font-size':18.9},'Low MGLL TPM');
  
  
  el=add(g,'text',{x:2283,y:1490.6,'font-size':18.9},'High MGLL TPM');
  
  

  const statY=[1514,1536.7,1559,1582.5,1605];
  kmStatsLines.forEach((s,i)=>{
    const lab=add(g,'text',{x:2420,y:statY[i],'text-anchor':'end','font-size':18.7},s);
    
    
  });
}
drawSurvival();
</script>
</body>
</html>
